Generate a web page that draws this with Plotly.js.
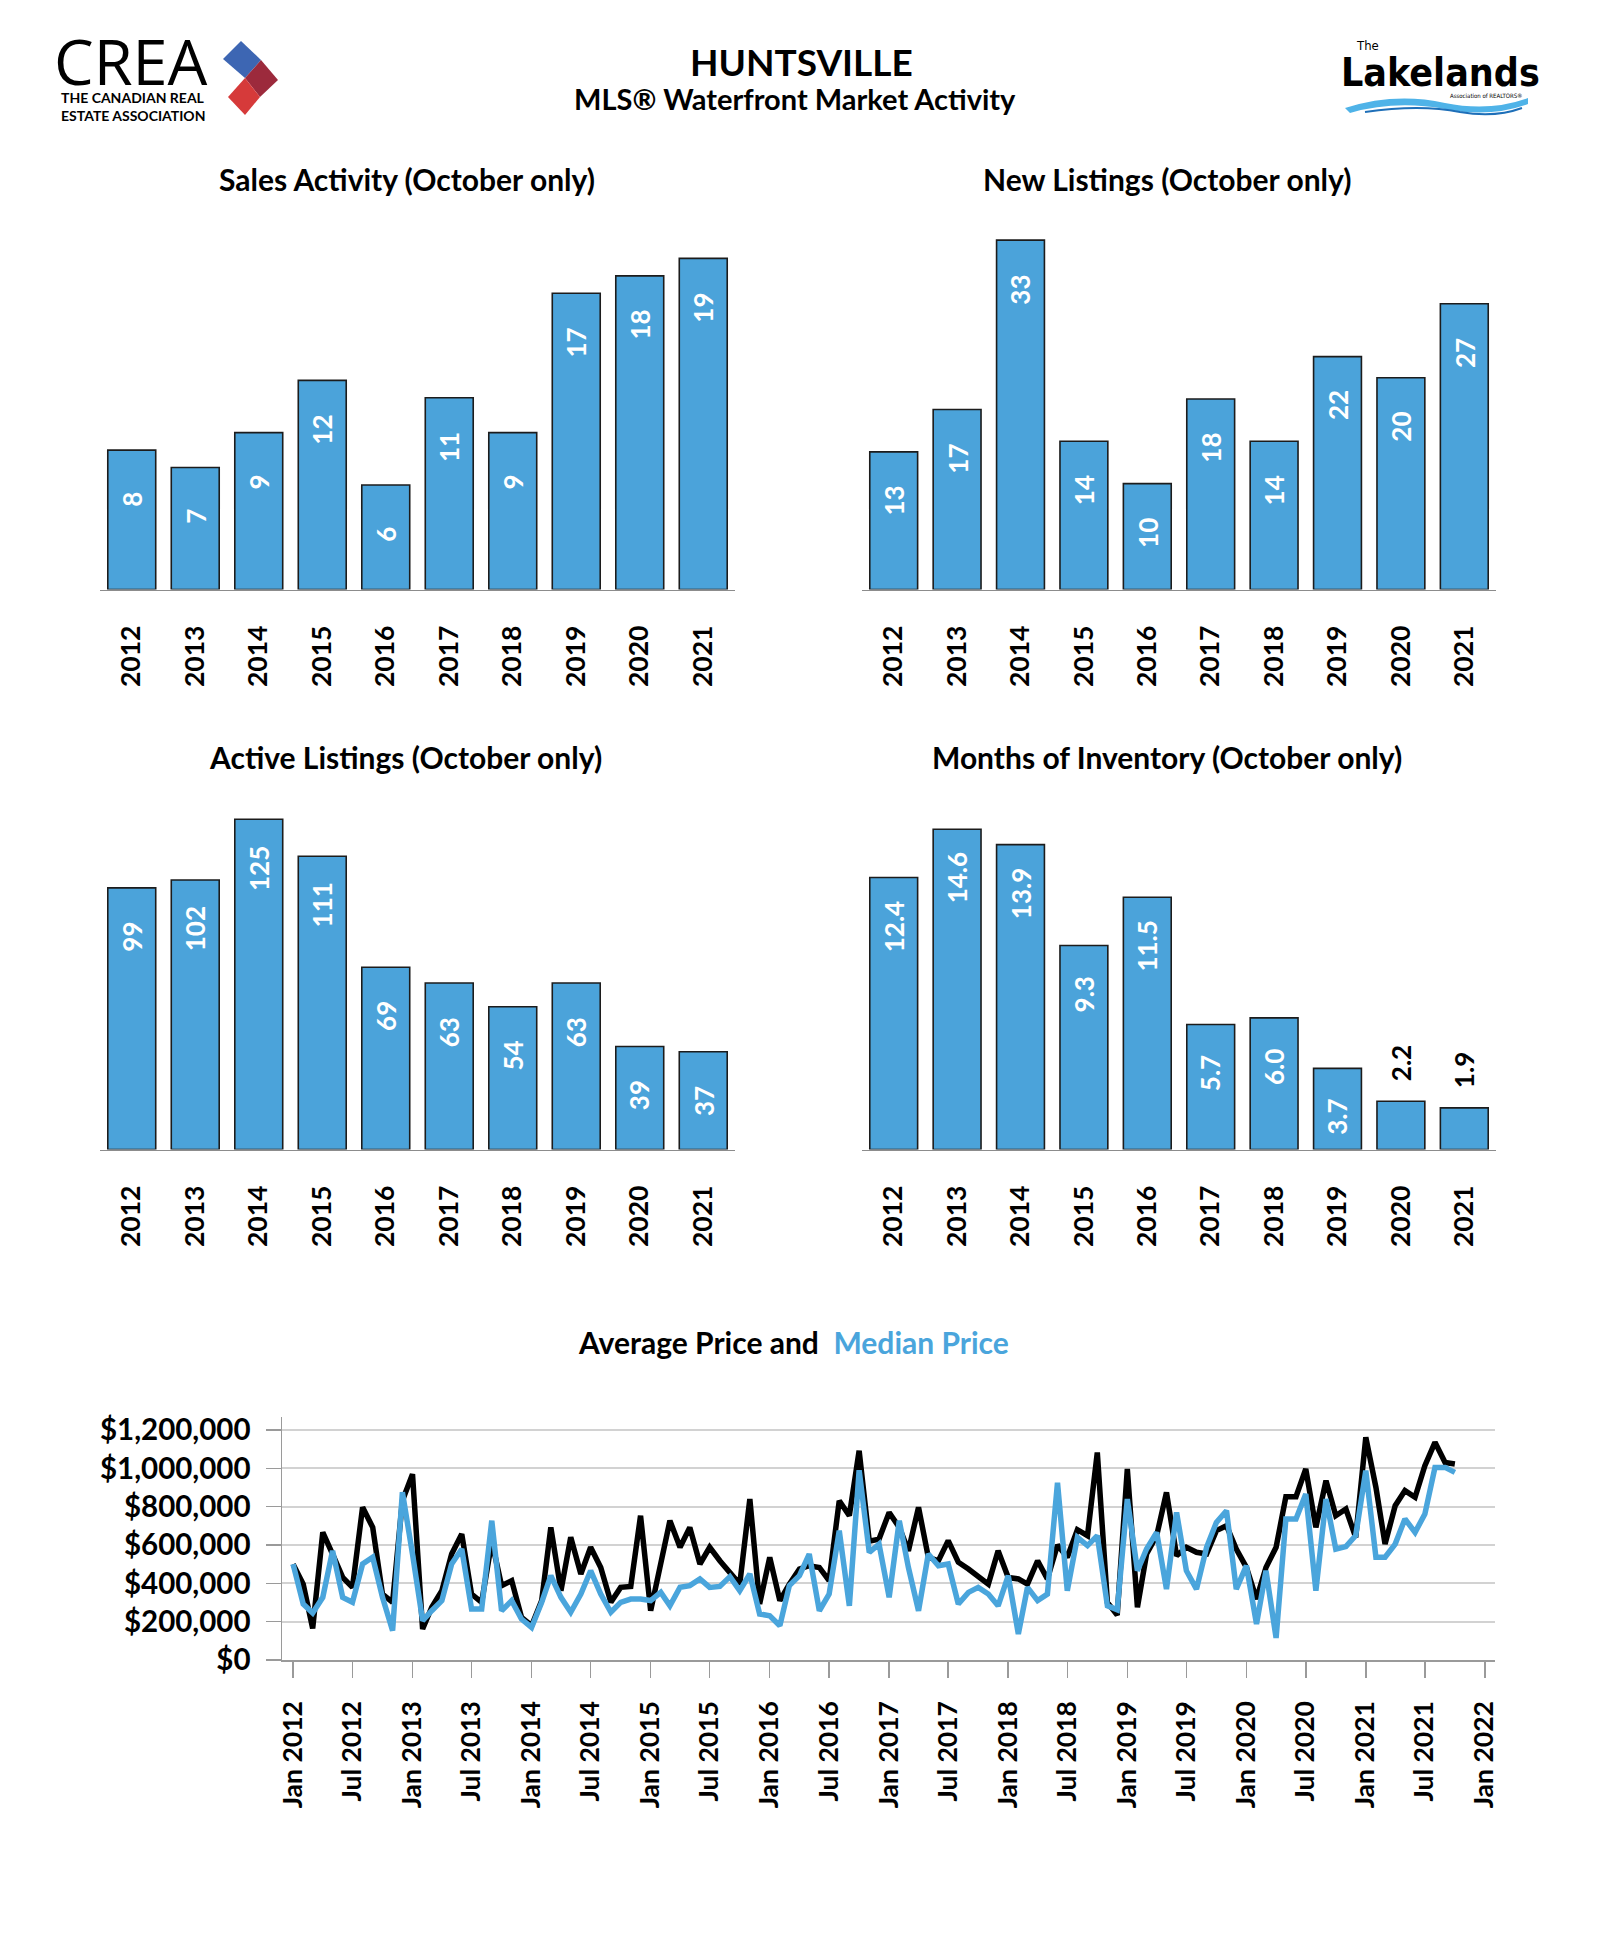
<!DOCTYPE html>
<html>
<head>
<meta charset="utf-8">
<script src="https://cdn.plot.ly/plotly-3.0.1.min.js"></script>
<style>
  html, body { margin: 0; padding: 0; background: #ffffff; }
  #chart { width: 1600px; height: 1935px; }
</style>
</head>
<body>
<div id="chart"></div>
<script>
// ---------------- DATA ----------------
const years = ['2012','2013','2014','2015','2016','2017','2018','2019','2020','2021'];
const salesActivity = [8, 7, 9, 12, 6, 11, 9, 17, 18, 19];
const newListings = [13, 17, 33, 14, 10, 18, 14, 22, 20, 27];
const activeListings = [99, 102, 125, 111, 69, 63, 54, 63, 39, 37];
const monthsOfInventory = [12.4, 14.6, 13.9, 9.3, 11.5, 5.7, 6.0, 3.7, 2.2, 1.9];

// Monthly series, Jan 2012 .. Oct 2021
const seriesStart = { year: 2012, month: 1 };
const avgPrice = [
  500000, 396000, 165000, 666000, 553000, 431000, 379000, 797000, 692000, 344000, 301000, 831000,
  970000, 162000, 275000, 362000, 553000, 657000, 344000, 301000, 620000, 388000, 414000, 223000,
  179000, 310000, 692000, 362000, 640000, 449000, 588000, 483000, 301000, 379000, 384000, 753000,
  257000, 518000, 727000, 588000, 692000, 501000, 588000, 518000, 457000, 396000, 840000, 292000,
  536000, 310000, 396000, 475000, 492000, 483000, 414000, 831000, 753000, 1092000, 620000, 631000,
  770000, 692000, 570000, 797000, 536000, 518000, 623000, 510000, 475000, 440000, 396000, 570000,
  431000, 423000, 396000, 518000, 423000, 600000, 536000, 680000, 649000, 1083000, 300000, 235000,
  997000, 275000, 553000, 649000, 875000, 544000, 588000, 562000, 553000, 675000, 701000, 579000,
  483000, 318000, 483000, 588000, 852000, 852000, 997000, 692000, 936000, 753000, 788000, 640000,
  1162000, 901000, 605000, 805000, 884000, 849000, 1014000, 1136000, 1031000, 1023000
];
const medianPrice = [
  500000, 292000, 245000, 327000, 570000, 327000, 301000, 501000, 536000, 327000, 153000, 875000,
  553000, 205000, 257000, 310000, 501000, 579000, 266000, 266000, 727000, 257000, 310000, 214000,
  170000, 301000, 440000, 327000, 249000, 344000, 466000, 344000, 249000, 301000, 318000, 318000,
  310000, 353000, 283000, 380000, 388000, 423000, 379000, 384000, 435000, 362000, 449000, 240000,
  231000, 179000, 388000, 440000, 553000, 257000, 344000, 675000, 283000, 990000, 562000, 605000,
  327000, 727000, 483000, 257000, 553000, 492000, 501000, 292000, 353000, 379000, 344000, 283000,
  440000, 136000, 379000, 310000, 344000, 925000, 362000, 640000, 597000, 649000, 283000, 262000,
  840000, 466000, 579000, 666000, 370000, 770000, 466000, 370000, 588000, 718000, 779000, 370000,
  492000, 188000, 466000, 115000, 736000, 736000, 866000, 362000, 840000, 579000, 592000, 649000,
  988000, 536000, 536000, 605000, 736000, 666000, 762000, 1005000, 1005000, 979000
];
const priceTicks = [0, 200000, 400000, 600000, 800000, 1000000, 1200000];

// ---------------- HELPERS ----------------
const W = 1600, H = 1935;
const fx = p => p / W;
const fy = p => 1 - p / H;
const FONT = 'Lato, "Open Sans", "DejaVu Sans", sans-serif';
const NARROW = '"Liberation Sans Narrow", "DejaVu Sans Condensed", "Roboto", sans-serif';
const BAR_BLUE = '#4ba3da';
const LINE_BLUE = '#4aa5dc';

const months = avgPrice.map((_, i) => {
  const total = (seriesStart.month - 1) + i;
  const y = seriesStart.year + Math.floor(total / 12);
  const m = (total % 12) + 1;
  return y + '-' + String(m).padStart(2, '0') + '-01';
});

const barCharts = [
  { title: 'Sales Activity (October only)', values: salesActivity, xd: [100, 735], base: 589.5, top: 241, max: 20, tx: 407, ty: 179 },
  { title: 'New Listings (October only)', values: newListings, xd: [862, 1496], base: 589.5, top: 219, max: 35, tx: 1167, ty: 179 },
  { title: 'Active Listings (October only)', values: activeListings, xd: [100, 735], base: 1149.5, top: 806, max: 130, tx: 405, ty: 757 },
  { title: 'Months of Inventory (October only)', values: monthsOfInventory, xd: [862, 1496], base: 1149.5, top: 820.5, max: 15, tx: 1167, ty: 757 }
];

const traces = [];
const layout = {
  width: W, height: H,
  margin: { l: 0, r: 0, t: 0, b: 0 },
  paper_bgcolor: '#ffffff', plot_bgcolor: 'rgba(0,0,0,0)',
  showlegend: false,
  bargap: 0.245,
  font: { family: FONT, color: '#000' },
  annotations: [],
  shapes: []
};

barCharts.forEach((c, k) => {
  const n = k + 1;
  const xa = 'x' + (n === 1 ? '' : n), ya = 'y' + (n === 1 ? '' : n);
  const xKey = 'xaxis' + (n === 1 ? '' : n), yKey = 'yaxis' + (n === 1 ? '' : n);
  traces.push({
    type: 'bar', x: years, y: c.values, xaxis: xa, yaxis: ya,
    marker: { color: BAR_BLUE, line: { color: '#1c1c1c', width: 1.6 } },
    hoverinfo: 'skip'
  });
  layout[xKey] = {
    domain: [fx(c.xd[0]), fx(c.xd[1])], anchor: ya, type: 'category',
    range: [-0.5, years.length - 0.5],
    showline: true, linecolor: '#8c8c8c', linewidth: 1.5,
    ticks: 'outside', ticklen: 24, tickcolor: 'rgba(0,0,0,0)',
    tickangle: -90, tickfont: { family: FONT, size: 26.5, color: '#000', weight: 700 },
    showgrid: false, zeroline: false, fixedrange: true
  };
  layout[yKey] = {
    domain: [fy(c.base), fy(c.top)], anchor: xa, range: [0, c.max],
    visible: false, showgrid: false, zeroline: false, fixedrange: true
  };
  layout.annotations.push({
    xref: 'paper', yref: 'paper', x: fx(c.tx), y: fy(c.ty),
    xanchor: 'center', yanchor: 'middle', showarrow: false,
    text: c.title, font: { family: FONT, size: 30, color: '#000', weight: 700 }
  });
  const unit = (c.base - c.top) / c.max;
  c.values.forEach((v, i) => {
    const inside = v * unit > 70;
    layout.annotations.push({
      xref: xa, yref: ya, x: i, y: v,
      xanchor: 'center', yanchor: 'middle', showarrow: false,
      yshift: inside ? -49 : 38, textangle: -90,
      text: (c.values === monthsOfInventory ? v.toFixed(1) : String(v)),
      font: { family: FONT, size: 26, color: inside ? '#ffffff' : '#000000', weight: 700 }
    });
  });
});

// Line chart
traces.push({
  type: 'scatter', mode: 'lines', x: months, y: avgPrice, xaxis: 'x5', yaxis: 'y5',
  line: { color: '#000000', width: 5.5, shape: 'linear' }, hoverinfo: 'skip'
});
traces.push({
  type: 'scatter', mode: 'lines', x: months, y: medianPrice, xaxis: 'x5', yaxis: 'y5',
  line: { color: LINE_BLUE, width: 5.5, shape: 'linear' }, hoverinfo: 'skip'
});
layout.xaxis5 = {
  domain: [fx(282), fx(1495)], anchor: 'y5', type: 'date',
  range: ['2011-11-28', '2022-02-01'],
  tick0: '2012-01-01', dtick: 'M6', tickformat: '%b %Y', tickangle: -90,
  ticks: 'outside', ticklen: 16, tickwidth: 1.5, tickcolor: '#9a9a9a',
  ticklabelstandoff: 13,
  showline: true, linecolor: '#9a9a9a', linewidth: 1.5,
  showgrid: false, zeroline: false,
  tickfont: { family: FONT, size: 26.5, color: '#000', weight: 700 }, fixedrange: true
};
layout.yaxis5 = {
  domain: [fy(1660), fy(1417)], anchor: 'x5', range: [0, 1268000],
  tickmode: 'array', tickvals: priceTicks, tickformat: '$,.0f',
  ticks: 'outside', ticklen: 15, tickwidth: 1.5, tickcolor: '#9a9a9a',
  ticklabelstandoff: 9,
  showline: true, linecolor: '#9a9a9a', linewidth: 1.5,
  showgrid: true, gridcolor: '#d2d2d2', gridwidth: 2, zeroline: false,
  tickfont: { family: FONT, size: 29.5, color: '#000', weight: 700 }, fixedrange: true
};
layout.annotations.push({
  xref: 'paper', yref: 'paper', x: fx(793), y: fy(1342),
  xanchor: 'center', yanchor: 'middle', showarrow: false,
  text: 'Average Price and  <span style="color:' + LINE_BLUE + '">Median Price</span>',
  font: { family: FONT, size: 30, color: '#000', weight: 700 }
});

// Header texts
layout.annotations.push(
  { xref: 'paper', yref: 'paper', x: fx(801), y: fy(62), xanchor: 'center', yanchor: 'middle', showarrow: false,
    text: 'HUNTSVILLE', font: { family: FONT, size: 37, color: '#000', weight: 700 } },
  { xref: 'paper', yref: 'paper', x: fx(795), y: fy(98), xanchor: 'center', yanchor: 'middle', showarrow: false,
    text: 'MLS® Waterfront Market Activity', font: { family: FONT, size: 29, color: '#000', weight: 700 } },
  // CREA logo text (one block: big word + two small lines)
  { xref: 'paper', yref: 'paper', x: fx(52), y: fy(126), xanchor: 'left', yanchor: 'bottom', showarrow: false,
    align: 'left',
    text: '<span style="font-family:\'Open Sans\', Lato, sans-serif; font-size:63px; font-weight:400">CREA</span>' +
          '<br><span style="font-weight:700">\u2002THE CANADIAN REAL</span><br><span style="font-weight:700">\u2002ESTATE ASSOCIATION</span>',
    font: { family: FONT, size: 14, color: '#000', weight: 700 } },
  // Lakelands logo text
  { xref: 'paper', yref: 'paper', x: fx(1354), y: fy(46), xanchor: 'left', yanchor: 'middle', showarrow: false,
    text: 'The', font: { family: NARROW, size: 13, color: '#000' } },
  { xref: 'paper', yref: 'paper', x: fx(1440), y: fy(72), xanchor: 'center', yanchor: 'middle', showarrow: false,
    text: 'Lakelands', font: { family: NARROW, size: 39, color: '#000', weight: 700 } },
  { xref: 'paper', yref: 'paper', x: fx(1525), y: fy(95), xanchor: 'right', yanchor: 'middle', showarrow: false,
    text: 'Association of REALTORS®', align: 'right',
    font: { family: NARROW, size: 6, color: '#000' } }
);

// Logo shapes (decoration)
const ps = (pts) => 'M' + pts.map(p => fx(p[0]) + ',' + fy(p[1])).join(' L') + ' Z';
layout.shapes.push(
  { type: 'path', xref: 'paper', yref: 'paper', path: ps([[241,41],[261,60],[245,78],[223,59]]),
    fillcolor: '#3d66b3', line: { width: 0 } },
  { type: 'path', xref: 'paper', yref: 'paper', path: ps([[261,60],[278,80],[260,97],[245,78]]),
    fillcolor: '#9c2a3c', line: { width: 0 } },
  { type: 'path', xref: 'paper', yref: 'paper', path: ps([[245,78],[260,97],[245,115],[228,97]]),
    fillcolor: '#d63a3a', line: { width: 0 } }
);
const cp = (cmds) => cmds.map(c => c[0] + ' ' + c.slice(1).map((v, i) => i % 2 === 0 ? fx(v) : fy(v)).join(',')).join(' ');
layout.shapes.push(
  { type: 'path', xref: 'paper', yref: 'paper',
    path: cp([['M',1345,108],['Q',1395,92,1445,103],['Q',1490,112,1528,98],['L',1528,104],['Q',1490,118,1445,109],['Q',1395,100,1350,113]]) + ' Z',
    fillcolor: '#4fb3e8', line: { width: 0 } },
  { type: 'path', xref: 'paper', yref: 'paper',
    path: cp([['M',1365,112],['Q',1420,104,1460,112],['Q',1495,118,1522,108]]),
    fillcolor: 'rgba(0,0,0,0)', line: { color: '#1e6fb8', width: 2 } }
);

Plotly.newPlot('chart', traces, layout, { staticPlot: true, displayModeBar: false });
</script>
</body>
</html>
